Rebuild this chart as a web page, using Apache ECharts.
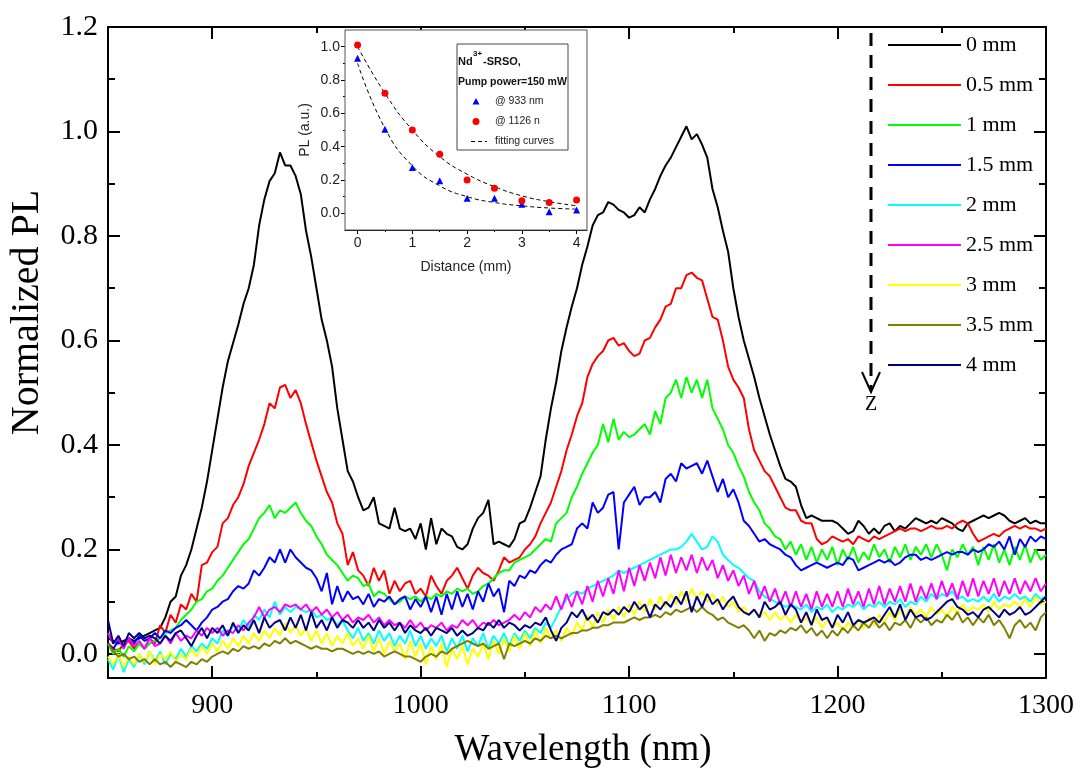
<!DOCTYPE html>
<html>
<head>
<meta charset="utf-8">
<script src="https://cdn.jsdelivr.net/npm/echarts@6/dist/echarts.min.js"></script>
<style>html,body{margin:0;padding:0;background:#fff}#c{width:1085px;height:773px}</style>
</head>
<body>
<div id="c"></div>
<script>
// ---------- main chart data (wavelength grid 850..1300 nm, step 2.5 nm) ----------
const WL_START = 850;
const WL_STEP = 2.5;
const seriesNames = ['0 mm', '0.5 mm', '1 mm', '1.5 mm', '2 mm', '2.5 mm', '3 mm', '3.5 mm', '4 mm'];
const seriesColors = ['#000000', '#ff0000', '#00ff00', '#0000ff', '#00ffff', '#ff00ff', '#ffff00', '#808000', '#000080'];

const pl0mm = [
0.03,0.025,0.02,0.025,0.03,0.025,0.03,0.035,0.04,0.045,
0.05,0.07,0.10,0.11,0.15,0.17,0.20,0.24,0.28,0.33,
0.39,0.45,0.51,0.56,0.595,0.63,0.67,0.70,0.745,0.82,
0.87,0.905,0.92,0.96,0.935,0.935,0.915,0.88,0.81,0.76,
0.70,0.64,0.60,0.55,0.47,0.41,0.35,0.33,0.30,0.275,
0.28,0.30,0.25,0.245,0.24,0.28,0.24,0.235,0.24,0.22,
0.25,0.20,0.26,0.21,0.24,0.23,0.225,0.205,0.20,0.21,
0.24,0.26,0.27,0.295,0.21,0.215,0.21,0.205,0.22,0.25,
0.255,0.28,0.31,0.34,0.41,0.47,0.52,0.58,0.625,0.665,
0.70,0.745,0.78,0.82,0.84,0.845,0.865,0.86,0.85,0.845,
0.835,0.84,0.855,0.845,0.87,0.89,0.915,0.935,0.95,0.97,
0.99,1.01,0.985,0.995,0.975,0.95,0.89,0.855,0.81,0.77,
0.70,0.645,0.60,0.565,0.53,0.49,0.455,0.42,0.39,0.36,
0.335,0.33,0.32,0.285,0.26,0.265,0.26,0.255,0.255,0.255,
0.25,0.24,0.23,0.235,0.255,0.245,0.23,0.24,0.23,0.245,
0.25,0.235,0.245,0.24,0.25,0.26,0.255,0.25,0.255,0.25,
0.26,0.255,0.25,0.24,0.235,0.25,0.255,0.26,0.265,0.26,
0.265,0.27,0.265,0.255,0.25,0.255,0.26,0.25,0.255,0.25,
0.25];

const pl05mm = [
0.02,0.01,0.005,0.02,0.025,0.01,0.02,0.01,0.03,0.02,
0.055,0.04,0.075,0.06,0.095,0.085,0.115,0.10,0.17,0.175,
0.195,0.205,0.25,0.26,0.285,0.30,0.325,0.36,0.385,0.41,
0.44,0.48,0.47,0.51,0.515,0.49,0.505,0.48,0.44,0.405,
0.37,0.34,0.31,0.29,0.25,0.23,0.17,0.195,0.16,0.15,
0.13,0.165,0.14,0.16,0.115,0.14,0.12,0.135,0.14,0.115,
0.125,0.11,0.15,0.13,0.115,0.14,0.15,0.165,0.145,0.125,
0.15,0.165,0.155,0.15,0.14,0.16,0.185,0.175,0.18,0.185,
0.20,0.21,0.225,0.25,0.27,0.29,0.32,0.35,0.39,0.42,
0.455,0.48,0.53,0.555,0.57,0.58,0.60,0.605,0.59,0.595,
0.58,0.57,0.575,0.60,0.605,0.625,0.64,0.665,0.67,0.70,
0.70,0.725,0.73,0.72,0.715,0.68,0.645,0.64,0.60,0.55,
0.525,0.51,0.49,0.43,0.39,0.37,0.35,0.34,0.32,0.30,
0.28,0.275,0.275,0.255,0.25,0.25,0.22,0.21,0.215,0.225,
0.22,0.215,0.22,0.21,0.225,0.22,0.215,0.225,0.22,0.225,
0.23,0.235,0.24,0.235,0.24,0.24,0.235,0.24,0.245,0.24,
0.24,0.245,0.24,0.25,0.255,0.25,0.23,0.215,0.22,0.225,
0.23,0.225,0.235,0.24,0.245,0.24,0.245,0.24,0.24,0.235,
0.24];

const pl1mm = [
0.02,0.00,0.01,-0.005,0.015,0.005,0.02,0.01,0.02,0.025,
0.03,0.04,0.045,0.05,0.065,0.075,0.085,0.10,0.105,0.12,
0.125,0.14,0.15,0.165,0.18,0.195,0.21,0.22,0.24,0.26,
0.27,0.285,0.26,0.275,0.27,0.28,0.29,0.27,0.255,0.245,
0.225,0.21,0.19,0.18,0.17,0.155,0.14,0.15,0.145,0.13,
0.135,0.11,0.12,0.115,0.105,0.095,0.10,0.11,0.105,0.11,
0.10,0.11,0.105,0.115,0.11,0.12,0.115,0.125,0.12,0.125,
0.115,0.12,0.13,0.135,0.145,0.155,0.16,0.16,0.175,0.18,
0.185,0.19,0.20,0.21,0.22,0.215,0.25,0.26,0.27,0.30,
0.32,0.345,0.365,0.385,0.40,0.44,0.405,0.45,0.41,0.425,
0.415,0.42,0.43,0.44,0.42,0.465,0.44,0.49,0.50,0.525,
0.49,0.53,0.50,0.525,0.49,0.525,0.47,0.45,0.43,0.40,
0.385,0.36,0.34,0.31,0.29,0.275,0.25,0.24,0.225,0.22,
0.20,0.215,0.19,0.21,0.18,0.205,0.175,0.20,0.18,0.205,
0.17,0.20,0.18,0.205,0.175,0.195,0.18,0.21,0.185,0.20,
0.175,0.205,0.185,0.21,0.18,0.205,0.19,0.21,0.185,0.21,
0.19,0.16,0.20,0.185,0.21,0.19,0.205,0.17,0.205,0.18,
0.21,0.175,0.20,0.17,0.205,0.18,0.21,0.175,0.20,0.18,
0.19];

const pl15mm = [
0.02,0.01,0.025,0.015,0.03,0.02,0.035,0.025,0.03,0.04,
0.03,0.045,0.04,0.05,0.055,0.065,0.055,0.045,0.06,0.07,
0.085,0.09,0.10,0.105,0.12,0.13,0.125,0.135,0.16,0.15,
0.165,0.185,0.175,0.20,0.175,0.20,0.185,0.175,0.165,0.16,
0.145,0.12,0.155,0.095,0.13,0.10,0.12,0.105,0.11,0.095,
0.115,0.09,0.105,0.10,0.11,0.095,0.105,0.11,0.085,0.105,
0.09,0.11,0.08,0.11,0.075,0.115,0.085,0.12,0.09,0.115,
0.085,0.12,0.10,0.135,0.11,0.125,0.08,0.14,0.13,0.15,
0.145,0.16,0.155,0.17,0.18,0.175,0.19,0.20,0.205,0.21,
0.24,0.25,0.24,0.29,0.27,0.28,0.305,0.31,0.20,0.29,
0.305,0.32,0.285,0.30,0.30,0.31,0.29,0.335,0.345,0.33,
0.365,0.355,0.36,0.365,0.345,0.37,0.34,0.31,0.335,0.30,
0.315,0.29,0.255,0.245,0.23,0.215,0.22,0.21,0.205,0.20,
0.19,0.185,0.17,0.16,0.165,0.17,0.175,0.17,0.165,0.17,
0.175,0.17,0.185,0.18,0.16,0.165,0.17,0.175,0.18,0.175,
0.18,0.17,0.175,0.185,0.19,0.19,0.18,0.185,0.18,0.185,
0.19,0.195,0.19,0.195,0.195,0.19,0.20,0.195,0.20,0.21,
0.205,0.215,0.20,0.225,0.19,0.22,0.205,0.225,0.215,0.225,
0.22];

const pl2mm = [
-0.01,-0.03,0.0,-0.035,-0.01,-0.025,0.0,-0.02,0.005,-0.015,
0.005,-0.02,0.0,-0.01,0.01,-0.005,0.015,0.005,0.02,0.01,
0.03,0.02,0.045,0.035,0.055,0.045,0.065,0.05,0.075,0.065,
0.085,0.07,0.10,0.075,0.09,0.08,0.09,0.085,0.08,0.085,
0.07,0.075,0.065,0.07,0.055,0.065,0.045,0.03,0.05,0.025,
0.04,0.02,0.045,0.025,0.04,0.015,0.035,0.02,0.045,0.015,
0.035,0.01,0.03,0.015,0.035,0.005,0.03,0.01,0.035,0.005,
0.03,0.015,0.04,0.01,0.035,0.02,0.04,0.015,0.04,0.025,
0.045,0.03,0.05,0.04,0.06,0.05,0.07,0.09,0.105,0.115,
0.12,0.115,0.125,0.13,0.135,0.14,0.145,0.15,0.16,0.155,
0.16,0.165,0.17,0.175,0.18,0.185,0.19,0.195,0.20,0.20,
0.205,0.215,0.23,0.215,0.20,0.205,0.225,0.215,0.19,0.18,
0.17,0.165,0.155,0.145,0.14,0.12,0.11,0.105,0.10,0.095,
0.09,0.095,0.09,0.085,0.095,0.08,0.09,0.085,0.095,0.08,
0.09,0.085,0.095,0.09,0.10,0.085,0.095,0.09,0.10,0.09,
0.10,0.095,0.105,0.09,0.10,0.095,0.11,0.10,0.115,0.105,
0.115,0.11,0.12,0.105,0.11,0.10,0.105,0.10,0.11,0.10,
0.115,0.10,0.11,0.105,0.115,0.105,0.11,0.10,0.115,0.105,
0.11];

const pl25mm = [
0.04,0.02,0.03,0.01,0.03,0.015,0.025,0.01,0.03,0.015,
0.02,0.035,0.02,0.04,0.025,0.035,0.03,0.045,0.035,0.05,
0.04,0.05,0.035,0.045,0.04,0.055,0.045,0.06,0.07,0.09,
0.07,0.085,0.09,0.08,0.095,0.09,0.095,0.085,0.095,0.08,
0.09,0.075,0.085,0.07,0.08,0.065,0.075,0.06,0.07,0.065,
0.075,0.06,0.07,0.055,0.065,0.055,0.06,0.05,0.065,0.05,
0.06,0.045,0.055,0.05,0.06,0.045,0.055,0.05,0.065,0.055,
0.065,0.05,0.06,0.055,0.065,0.055,0.06,0.065,0.075,0.065,
0.08,0.07,0.09,0.08,0.095,0.085,0.11,0.085,0.115,0.09,
0.12,0.095,0.13,0.10,0.14,0.11,0.145,0.115,0.16,0.12,
0.165,0.13,0.17,0.14,0.175,0.145,0.185,0.15,0.19,0.155,
0.185,0.16,0.19,0.155,0.185,0.16,0.18,0.145,0.17,0.14,
0.16,0.13,0.15,0.115,0.14,0.105,0.13,0.10,0.125,0.095,
0.12,0.09,0.12,0.09,0.115,0.085,0.12,0.09,0.115,0.09,
0.12,0.09,0.125,0.095,0.12,0.09,0.125,0.095,0.13,0.095,
0.125,0.10,0.13,0.10,0.135,0.10,0.13,0.105,0.135,0.105,
0.14,0.11,0.135,0.105,0.14,0.11,0.145,0.11,0.14,0.115,
0.145,0.11,0.14,0.115,0.145,0.115,0.14,0.12,0.145,0.12,
0.135];

const pl3mm = [
-0.005,-0.02,0.0,-0.025,-0.005,-0.02,0.0,-0.015,0.005,-0.02,
0.0,-0.01,0.005,-0.015,0.0,-0.01,0.01,-0.005,0.015,0.0,
0.02,0.005,0.025,0.01,0.03,0.015,0.035,0.02,0.04,0.025,
0.045,0.03,0.05,0.035,0.06,0.04,0.055,0.035,0.05,0.025,
0.045,0.02,0.04,0.015,0.035,0.02,0.04,0.015,0.03,0.01,
0.035,0.005,0.03,0.0,0.025,0.005,0.02,-0.01,0.025,-0.005,
0.02,-0.02,0.015,-0.01,0.02,-0.025,0.01,-0.01,0.015,-0.02,
0.01,-0.005,0.02,-0.01,0.025,0.0,0.03,0.005,0.035,0.01,
0.04,0.015,0.045,0.02,0.05,0.03,0.045,0.025,0.05,0.035,
0.06,0.045,0.075,0.05,0.08,0.06,0.085,0.065,0.09,0.07,
0.095,0.075,0.10,0.08,0.105,0.085,0.11,0.09,0.115,0.095,
0.12,0.10,0.125,0.105,0.12,0.10,0.115,0.095,0.11,0.09,
0.10,0.08,0.09,0.075,0.085,0.07,0.08,0.065,0.08,0.065,
0.075,0.06,0.075,0.06,0.07,0.055,0.07,0.05,0.065,0.05,
0.06,0.045,0.06,0.05,0.065,0.05,0.07,0.055,0.075,0.06,
0.08,0.065,0.085,0.07,0.09,0.075,0.085,0.07,0.09,0.075,
0.085,0.07,0.09,0.08,0.095,0.08,0.09,0.085,0.095,0.08,
0.10,0.085,0.095,0.09,0.10,0.09,0.105,0.09,0.11,0.095,
0.10];

const pl35mm = [
0.02,0.005,-0.005,0.0,-0.01,-0.005,-0.015,-0.01,-0.02,-0.01,
-0.02,-0.015,-0.025,-0.015,-0.02,-0.025,-0.015,-0.02,-0.01,-0.015,
-0.005,0.0,0.005,0.0,0.01,0.005,0.015,0.01,0.015,0.01,
0.02,0.015,0.025,0.02,0.03,0.02,0.025,0.02,0.015,0.01,
0.015,0.01,0.01,0.005,0.01,0.01,0.005,0.0,0.005,0.0,
0.005,0.0,0.005,-0.005,0.0,0.005,0.0,-0.005,-0.005,-0.01,
-0.015,-0.005,0.0,-0.005,0.005,0.0,0.01,0.015,0.02,0.025,
0.02,0.015,0.02,0.01,0.015,0.02,-0.01,0.02,0.015,0.02,
0.025,0.02,0.03,0.025,0.035,0.03,0.035,0.03,0.035,0.04,
0.04,0.045,0.045,0.05,0.05,0.055,0.055,0.06,0.06,0.06,
0.065,0.07,0.065,0.07,0.07,0.075,0.07,0.08,0.075,0.085,
0.08,0.085,0.09,0.08,0.09,0.08,0.075,0.065,0.07,0.06,
0.055,0.05,0.055,0.045,0.03,0.045,0.025,0.04,0.035,0.045,
0.04,0.05,0.045,0.055,0.04,0.05,0.035,0.045,0.03,0.045,
0.035,0.05,0.04,0.055,0.045,0.06,0.05,0.065,0.05,0.06,
0.045,0.06,0.055,0.065,0.05,0.07,0.06,0.07,0.055,0.065,
0.06,0.075,0.065,0.08,0.06,0.07,0.055,0.07,0.06,0.075,
0.055,0.065,0.05,0.03,0.055,0.065,0.05,0.06,0.045,0.07,
0.08];

const pl4mm = [
0.065,0.02,0.035,0.015,0.04,0.03,0.04,0.03,0.035,0.03,
0.02,0.035,0.025,0.04,0.045,0.03,0.015,0.035,0.05,0.03,
0.05,0.04,0.055,0.035,0.06,0.04,0.055,0.045,0.065,0.04,
0.07,0.05,0.06,0.065,0.045,0.07,0.05,0.075,0.045,0.08,
0.05,0.065,0.045,0.07,0.05,0.065,0.06,0.05,0.065,0.05,
0.06,0.045,0.065,0.05,0.06,0.045,0.06,0.04,0.055,0.045,
0.04,0.05,0.035,0.05,0.045,0.04,0.05,0.035,0.045,0.035,
0.04,0.05,0.045,0.06,0.05,0.065,0.05,0.06,0.055,0.045,
0.055,0.05,0.06,0.055,0.07,0.045,0.025,0.05,0.06,0.08,
0.07,0.085,0.065,0.075,0.06,0.08,0.075,0.085,0.075,0.09,
0.08,0.10,0.085,0.095,0.07,0.095,0.085,0.10,0.09,0.11,
0.095,0.12,0.08,0.11,0.09,0.115,0.095,0.105,0.085,0.10,
0.11,0.09,0.08,0.075,0.085,0.07,0.10,0.085,0.09,0.10,
0.075,0.095,0.085,0.06,0.08,0.055,0.085,0.065,0.07,0.05,
0.075,0.06,0.08,0.055,0.065,0.06,0.065,0.07,0.06,0.075,
0.09,0.07,0.095,0.065,0.085,0.07,0.075,0.065,0.07,0.08,
0.09,0.10,0.105,0.09,0.085,0.075,0.08,0.07,0.085,0.09,
0.08,0.07,0.085,0.075,0.08,0.09,0.075,0.08,0.09,0.10,
0.11];

const mainValues = [pl0mm, pl05mm, pl1mm, pl15mm, pl2mm, pl25mm, pl3mm, pl35mm, pl4mm];

// tick values
const xMajorTicks = [900, 1000, 1100, 1200, 1300];
const xMinorTicks = [950, 1050, 1150, 1250];
const yMajorTicks = [0, 0.2, 0.4, 0.6, 0.8, 1.0, 1.2];
const yMinorTicks = [0.1, 0.3, 0.5, 0.7, 0.9, 1.1];

// ---------- inset data ----------
const distance = [0, 0.5, 1, 1.5, 2, 2.5, 3, 3.5, 4];
const pl933 = [0.93, 0.505, 0.275, 0.195, 0.09, 0.09, 0.055, 0.01, 0.02];
const pl1126 = [1.01, 0.72, 0.50, 0.355, 0.20, 0.15, 0.075, 0.065, 0.08];
const fit933 = [0.90, 0.51, 0.285, 0.165, 0.10, 0.065, 0.045, 0.032, 0.025];
const fit1126 = [1.00, 0.72, 0.50, 0.34, 0.235, 0.16, 0.105, 0.07, 0.045];
const insetXMajor = [0, 1, 2, 3, 4];
const insetXMinor = [0.5, 1.5, 2.5, 3.5];
const insetYMajor = [0, 0.2, 0.4, 0.6, 0.8, 1.0];
const insetYMinor = [0.1, 0.3, 0.5, 0.7, 0.9];
const insetLegendLabels = ['@ 933 nm', '@ 1126 n', 'fitting curves'];

// ---------- build ----------
const SERIF = '"Liberation Serif","Times New Roman",serif';
const SANS = '"Liberation Sans",Arial,sans-serif';
const wavelength = pl0mm.map((_, i) => WL_START + i * WL_STEP);

function tickAxis(o) {
  return Object.assign({
    type: 'value',
    splitLine: { show: false },
    axisLine: { show: false, onZero: false },
    axisLabel: { show: false },
  }, o);
}
const blackLine = (w) => ({ color: '#000', width: w });

const mainX = { gridIndex: 0, min: 850, max: 1300 };
const mainY = { gridIndex: 0, min: -0.046, max: 1.2 };
const insX = { gridIndex: 1, min: -0.23, max: 4.19 };
const insY = { gridIndex: 1, min: -0.1, max: 1.1 };

const xAxis = [
  tickAxis(Object.assign({}, mainX, {
    position: 'bottom',
    name: 'Wavelength (nm)', nameLocation: 'middle', nameGap: 54,
    nameTextStyle: { fontFamily: SERIF, fontSize: 37, color: '#000', padding: [0, 0, 0, 12] },
    axisLine: { show: true, onZero: false, lineStyle: blackLine(2) },
    axisTick: { inside: true, length: 12, customValues: xMajorTicks, lineStyle: blackLine(2) },
    axisLabel: { show: true, customValues: xMajorTicks, margin: 14, fontFamily: SERIF, fontSize: 28, color: '#000',
      formatter: (v) => String(v) }
  })),
  tickAxis(Object.assign({}, mainX, {
    position: 'bottom',
    axisTick: { inside: true, length: 6, customValues: xMinorTicks, lineStyle: blackLine(2) }
  })),
  tickAxis(Object.assign({}, mainX, {
    position: 'top',
    axisLine: { show: true, onZero: false, lineStyle: blackLine(2) },
    axisTick: { inside: true, length: 12, customValues: xMajorTicks, lineStyle: blackLine(2) }
  })),
  tickAxis(Object.assign({}, mainX, {
    position: 'top',
    axisTick: { inside: true, length: 6, customValues: xMinorTicks, lineStyle: blackLine(2) }
  })),
  tickAxis(Object.assign({}, insX, {
    position: 'bottom',
    name: 'Distance (mm)', nameLocation: 'middle', nameGap: 30,
    nameTextStyle: { fontFamily: SANS, fontSize: 14, color: '#222' },
    axisLine: { show: true, onZero: false, lineStyle: blackLine(1) },
    axisTick: { inside: false, length: 4, customValues: insetXMajor, lineStyle: blackLine(1) },
    axisLabel: { show: true, customValues: insetXMajor, margin: 6, fontFamily: SANS, fontSize: 14, color: '#222' }
  })),
  tickAxis(Object.assign({}, insX, {
    position: 'bottom',
    axisTick: { inside: false, length: 2, customValues: insetXMinor, lineStyle: blackLine(1) }
  }))
];

const yAxis = [
  tickAxis(Object.assign({}, mainY, {
    position: 'left',
    name: 'Normalized PL', nameLocation: 'middle', nameGap: 61,
    nameTextStyle: { fontFamily: SERIF, fontSize: 40, color: '#000', padding: [0, 0, 0, 80] },
    axisLine: { show: true, onZero: false, lineStyle: blackLine(2) },
    axisTick: { inside: true, length: 12, customValues: yMajorTicks, lineStyle: blackLine(2) },
    axisLabel: { show: true, customValues: yMajorTicks, margin: 10, fontFamily: SERIF, fontSize: 30, color: '#000',
      formatter: (v) => v.toFixed(1) }
  })),
  tickAxis(Object.assign({}, mainY, {
    position: 'left',
    axisTick: { inside: true, length: 7, customValues: yMinorTicks, lineStyle: blackLine(2) }
  })),
  tickAxis(Object.assign({}, mainY, {
    position: 'right',
    axisLine: { show: true, onZero: false, lineStyle: blackLine(2) },
    axisTick: { inside: true, length: 12, customValues: yMajorTicks, lineStyle: blackLine(2) }
  })),
  tickAxis(Object.assign({}, mainY, {
    position: 'right',
    axisTick: { inside: true, length: 7, customValues: yMinorTicks, lineStyle: blackLine(2) }
  })),
  tickAxis(Object.assign({}, insY, {
    position: 'left',
    name: 'PL (a.u.)', nameLocation: 'middle', nameGap: 33,
    nameTextStyle: { fontFamily: SANS, fontSize: 14, color: '#222' },
    axisLine: { show: true, onZero: false, lineStyle: blackLine(1) },
    axisTick: { inside: false, length: 4, customValues: insetYMajor, lineStyle: blackLine(1) },
    axisLabel: { show: true, customValues: insetYMajor, margin: 5, fontFamily: SANS, fontSize: 14, color: '#222',
      formatter: (v) => v.toFixed(1) }
  })),
  tickAxis(Object.assign({}, insY, {
    position: 'left',
    axisTick: { inside: false, length: 2, customValues: insetYMinor, lineStyle: blackLine(1) }
  }))
];

const series = mainValues.map((vals, k) => ({
  type: 'line',
  name: seriesNames[k],
  xAxisIndex: 0, yAxisIndex: 0,
  data: wavelength.map((w, i) => [w, vals[i]]),
  symbol: 'none', showSymbol: false,
  lineStyle: { color: seriesColors[k], width: 2 },
  itemStyle: { color: seriesColors[k] },
  z: 2,
  animation: false
}));

series.push(
  { type: 'line', name: 'fitting curves', xAxisIndex: 4, yAxisIndex: 4, smooth: true,
    data: distance.map((d, i) => [d, fit1126[i]]), symbol: 'none', showSymbol: false,
    lineStyle: { color: '#000', width: 1, type: [4, 3] }, itemStyle: { color: '#000' }, z: 10, animation: false },
  { type: 'line', name: 'fitting curves', xAxisIndex: 4, yAxisIndex: 4, smooth: true,
    data: distance.map((d, i) => [d, fit933[i]]), symbol: 'none', showSymbol: false,
    lineStyle: { color: '#000', width: 1, type: [4, 3] }, itemStyle: { color: '#000' }, z: 10, animation: false },
  { type: 'scatter', name: '@ 933 nm', xAxisIndex: 4, yAxisIndex: 4,
    data: distance.map((d, i) => [d, pl933[i]]), symbol: 'triangle', symbolSize: 7,
    itemStyle: { color: '#0000ff', opacity: 1 }, z: 11, animation: false },
  { type: 'scatter', name: '@ 1126 n', xAxisIndex: 4, yAxisIndex: 4,
    data: distance.map((d, i) => [d, pl1126[i]]), symbol: 'circle', symbolSize: 7,
    itemStyle: { color: '#ff0000', opacity: 1 }, z: 11, animation: false }
);

const LEG_X_ICON = 476, LEG_X_TEXT = 495, LEG_Y = [101.5, 121.5, 141.5];
const insetLegendFont = '10.5px "Liberation Sans"';

const chart = echarts.init(document.getElementById('c'), null, { renderer: 'canvas' });
chart.setOption({
  backgroundColor: '#ffffff',
  animation: false,
  grid: [
    { left: 108, top: 27, width: 938, height: 651, containLabel: false, outerBoundsMode: 'none' },
    { left: 345, top: 30, width: 242, height: 200, containLabel: false, outerBoundsMode: 'none', show: true,
      backgroundColor: '#ffffff', borderColor: '#555', borderWidth: 1, z: 5 }
  ],
  xAxis: xAxis,
  yAxis: yAxis,
  legend: [
    { data: seriesNames, orient: 'vertical', left: 888, top: 33, padding: 0,
      icon: 'rect', itemWidth: 73, itemHeight: 2, itemGap: 16, selectedMode: false,
      textStyle: { fontFamily: SERIF, fontSize: 22, color: '#000', lineHeight: 24 } }
  ],
  graphic: [
    { type: 'line', z: 30, shape: { x1: 871, y1: 33, x2: 871, y2: 390 },
      style: { stroke: '#000', lineWidth: 3, lineDash: [13, 9] } },
    { type: 'polyline', z: 30, shape: { points: [[862, 372], [871, 392], [880, 372]] },
      style: { stroke: '#000', lineWidth: 2, fill: null } },
    { type: 'text', z: 30, x: 871, y: 405,
      style: { text: 'Z', font: '20px "Liberation Serif"', fill: '#000', textAlign: 'center', textVerticalAlign: 'middle' } },
    // inset legend box
    { type: 'rect', z: 15, shape: { x: 457, y: 44, width: 111, height: 106 },
      style: { fill: '#fff', stroke: '#444', lineWidth: 1 } },
    { type: 'text', z: 16, x: 458, y: 62,
      style: { text: 'Nd', font: 'bold 11px "Liberation Sans"', fill: '#111', textVerticalAlign: 'middle' } },
    { type: 'text', z: 16, x: 473, y: 54,
      style: { text: '3+', font: 'bold 8px "Liberation Sans"', fill: '#111', textVerticalAlign: 'middle' } },
    { type: 'text', z: 16, x: 483, y: 62,
      style: { text: '-SRSO,', font: 'bold 11px "Liberation Sans"', fill: '#111', textVerticalAlign: 'middle' } },
    { type: 'text', z: 16, x: 458, y: 82,
      style: { text: 'Pump power=150 mW', font: 'bold 10.5px "Liberation Sans"', fill: '#111', textVerticalAlign: 'middle' } },
    { type: 'polygon', z: 16, shape: { points: [[LEG_X_ICON, LEG_Y[0] - 3.5], [LEG_X_ICON - 3.5, LEG_Y[0] + 3], [LEG_X_ICON + 3.5, LEG_Y[0] + 3]] },
      style: { fill: '#0000ff' } },
    { type: 'circle', z: 16, shape: { cx: LEG_X_ICON, cy: LEG_Y[1], r: 3.5 }, style: { fill: '#ff0000' } },
    { type: 'line', z: 16, shape: { x1: LEG_X_ICON - 5, y1: LEG_Y[2], x2: LEG_X_ICON + 11, y2: LEG_Y[2] },
      style: { stroke: '#000', lineWidth: 1, lineDash: [4, 3] } },
    { type: 'text', z: 16, x: LEG_X_TEXT, y: LEG_Y[0],
      style: { text: insetLegendLabels[0], font: insetLegendFont, fill: '#222', textVerticalAlign: 'middle' } },
    { type: 'text', z: 16, x: LEG_X_TEXT, y: LEG_Y[1],
      style: { text: insetLegendLabels[1], font: insetLegendFont, fill: '#222', textVerticalAlign: 'middle' } },
    { type: 'text', z: 16, x: LEG_X_TEXT, y: LEG_Y[2],
      style: { text: insetLegendLabels[2], font: insetLegendFont, fill: '#222', textVerticalAlign: 'middle' } }
  ],
  series: series
});
</script>
</body>
</html>
